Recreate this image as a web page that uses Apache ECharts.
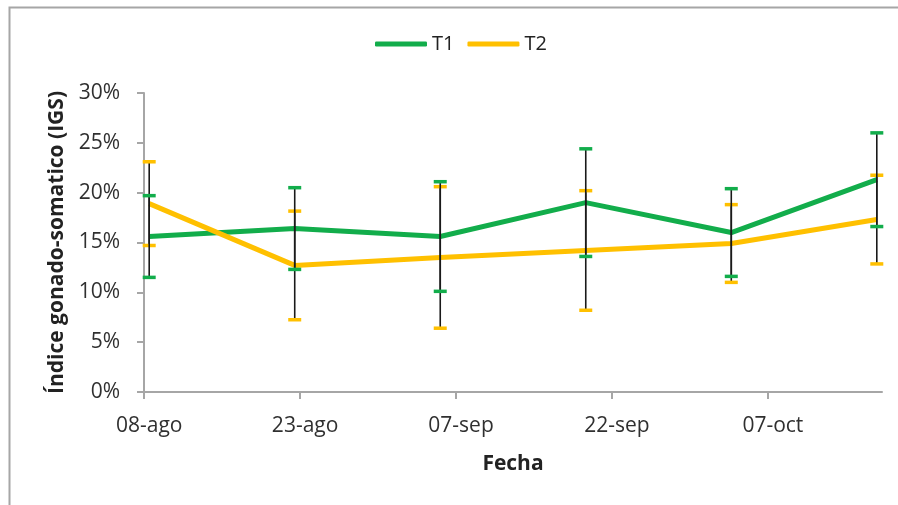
<!DOCTYPE html>
<html>
<head>
<meta charset="utf-8">
<script src="https://cdn.jsdelivr.net/npm/echarts@6/dist/echarts.min.js"></script>
<style>
html,body{margin:0;padding:0;background:#fff;}
#chart{width:898px;height:505px;}
</style>
</head>
<body>
<div id="chart"></div>
<script>
// ---- data ----
const startDate = '2014-08-08';
const axisEndDays = 71;
const dates = ['2014-08-08','2014-08-22','2014-09-05','2014-09-19','2014-10-03','2014-10-17'];
const t1Values = [15.6, 16.4, 15.6, 19.0, 16.0, 21.3];
const t1Errors = [4.1, 4.1, 5.5, 5.4, 4.4, 4.7];
const t2Values = [18.9, 12.7, 13.5, 14.2, 14.9, 17.3];
const t2Errors = [4.2, 5.45, 7.1, 6.0, 3.9, 4.45];
const xTickDays = [0, 15, 30, 45, 60];
const xTickLabels = ['08-ago','23-ago','07-sep','22-sep','07-oct'];
const yTicks = [0, 5, 10, 15, 20, 25, 30];

// ---- helpers ----
const DAY = 86400000;
const t0 = Date.parse(startDate + 'T00:00:00Z');
const dayPos = d => (Date.parse(d + 'T00:00:00Z') - t0) / DAY + 0.5; // centred in the day slot
const xs = dates.map(dayPos);
const lineData = vals => vals.map((v, i) => [xs[i], v]);
const errData = (vals, errs) => vals.map((v, i) => [xs[i], v - errs[i], v + errs[i]]);

const GREEN = '#12ad4b';
const ORANGE = '#ffc000';
const FONT = 'Open Sans';

function errRender(color) {
  return function (params, api) {
    const x = api.value(0);
    const lo = api.coord([x, api.value(1)]);
    const hi = api.coord([x, api.value(2)]);
    const hw = 6.5;
    return {
      type: 'group',
      children: [
        { type: 'line', shape: { x1: lo[0], y1: lo[1], x2: hi[0], y2: hi[1] },
          style: { stroke: '#1a1a1a', lineWidth: 1.6 } },
        { type: 'line', shape: { x1: lo[0] - hw, y1: lo[1], x2: lo[0] + hw, y2: lo[1] },
          style: { stroke: color, lineWidth: 3.5 } },
        { type: 'line', shape: { x1: hi[0] - hw, y1: hi[1], x2: hi[0] + hw, y2: hi[1] },
          style: { stroke: color, lineWidth: 3.5 } }
      ]
    };
  };
}

const chart = echarts.init(document.getElementById('chart'), null, { renderer: 'canvas' });
chart.setOption({
  animation: false,
  backgroundColor: '#fff',
  textStyle: { fontFamily: FONT },
  graphic: [{
    type: 'rect', left: 7, top: 5,
    shape: { width: 1000, height: 600 },
    style: { fill: 'none', stroke: '#a6a6a6', lineWidth: 2 },
    silent: true, z: -10
  }],
  legend: {
    data: ['T1', 'T2'],
    left: 370, top: 29,
    itemWidth: 52, itemHeight: 5, itemGap: 13,
    icon: 'roundRect',
    textStyle: { fontFamily: FONT, fontSize: 20, color: '#222' }
  },
  grid: { left: 144, right: 16, top: 93, bottom: 113, containLabel: false },
  xAxis: {
    type: 'value', min: 0, max: axisEndDays,
    name: 'Fecha', nameLocation: 'middle', nameGap: 62,
    nameTextStyle: { fontFamily: FONT, fontSize: 21, fontWeight: 'bold', color: '#222' },
    axisLine: { lineStyle: { color: '#a6a6a6', width: 2 } },
    axisTick: { show: true, length: 7, inside: false, customValues: xTickDays,
      lineStyle: { color: '#a6a6a6', width: 2 } },
    axisLabel: {
      customValues: xTickDays.map(d => d + 0.5),
      formatter: v => xTickLabels[xTickDays.indexOf(Math.round(v - 0.5))] || '',
      fontFamily: FONT, fontSize: 21, color: '#303030', margin: 24
    },
    splitLine: { show: false }
  },
  yAxis: {
    type: 'value', min: 0, max: 30, interval: 5,
    name: 'Índice gonado-somatico (IGS)', nameLocation: 'middle', nameGap: 76,
    nameTextStyle: { fontFamily: FONT, fontSize: 21, fontWeight: 'bold', color: '#222' },
    axisLine: { show: true, lineStyle: { color: '#a6a6a6', width: 2 } },
    axisTick: { show: true, length: 7, inside: false, lineStyle: { color: '#a6a6a6', width: 2 } },
    axisLabel: {
      customValues: yTicks,
      formatter: v => v + '%',
      fontFamily: FONT, fontSize: 21, color: '#303030', margin: 24
    },
    splitLine: { show: false }
  },
  series: [
    { name: 'T1', type: 'line', data: lineData(t1Values), symbol: 'none',
      lineStyle: { color: GREEN, width: 5 }, itemStyle: { color: GREEN }, z: 2 },
    { name: 'T2', type: 'line', data: lineData(t2Values), symbol: 'none',
      lineStyle: { color: ORANGE, width: 5 }, itemStyle: { color: ORANGE }, z: 3 },
    { name: 'T1err', type: 'custom', data: errData(t1Values, t1Errors),
      renderItem: errRender(GREEN), encode: { x: 0, y: [1, 2] }, z: 5 },
    { name: 'T2err', type: 'custom', data: errData(t2Values, t2Errors),
      renderItem: errRender(ORANGE), encode: { x: 0, y: [1, 2] }, z: 4 }
  ]
});
</script>
</body>
</html>
